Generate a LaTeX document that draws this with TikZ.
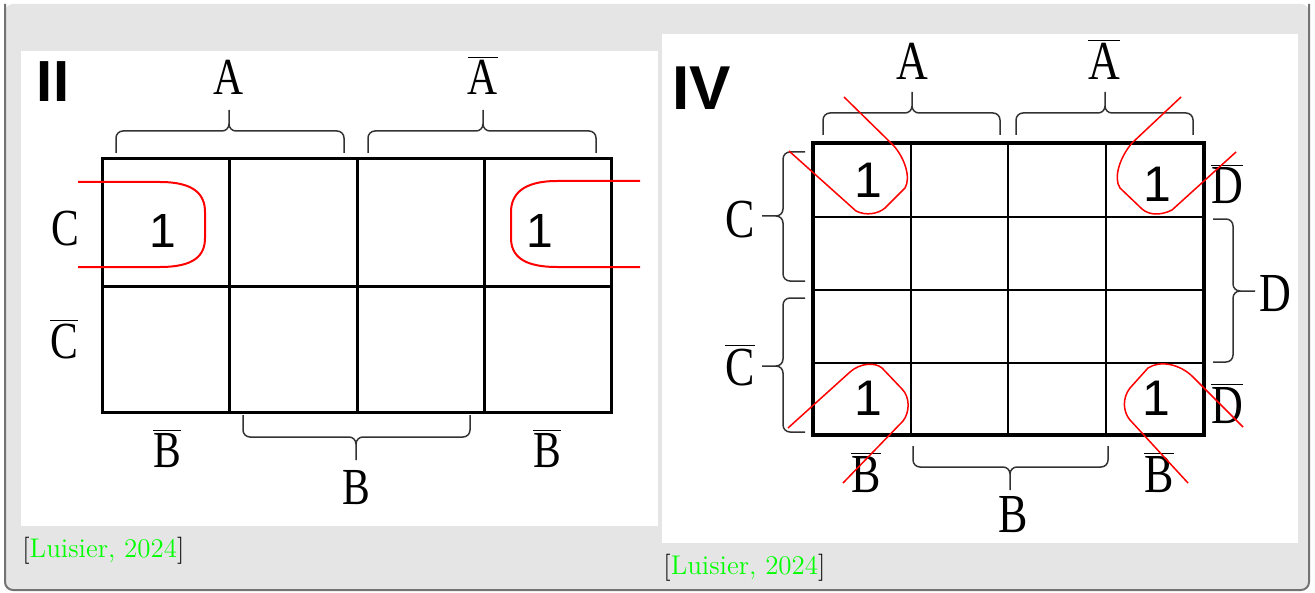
\documentclass[tikz,border=0pt]{standalone}
\usepackage{fontspec}
\usepackage{tikz}
\newfontfamily\labfont[FakeStretch=0.8]{Liberation Serif}
\newfontfamily\onefont{Liberation Sans}
\definecolor{bggray}{gray}{0.9}
\definecolor{framegray}{gray}{0.45}
\definecolor{citegreen}{rgb}{0,1,0}
\newcommand{\nbar}[1]{$\overline{\mbox{#1}}$}
\tikzset{lab/.style={font={\labfont\fontsize{26}{28}\selectfont}, inner sep=0pt, anchor=base}}
\tikzset{labIV/.style={font={\labfont\fontsize{27.5}{30}\selectfont}, inner sep=0pt, anchor=base}}
\tikzset{one/.style={font={\onefont\fontsize{24}{26}\selectfont}, inner sep=0pt, anchor=base}}
\tikzset{mapname/.style={font={\onefont\bfseries\fontsize{29}{30}\selectfont}, inner sep=0pt, anchor=base}}
\tikzset{cite/.style={font={\fontsize{13.5}{15}\selectfont}, inner sep=0pt, anchor=base west}}
\tikzset{brc/.style={draw=black!80, line width=0.75pt, rounded corners=3.5pt}}
\tikzset{loop/.style={draw=red, line width=1pt, line join=round}}

\begin{document}
\begin{tikzpicture}[x=0.5pt, y=-0.5pt]
	\useasboundingbox (0,0) rectangle (1315,593);
	% frame and panels
	\fill[bggray, rounded corners=4pt] (5,4) rectangle (1309,590);
	\draw[framegray, line width=1pt, rounded corners=4pt] (5,4) -- (5,590) -- (1309,590) -- (1309,4);
	\fill[white] (21,51) rectangle (658,526);
	\fill[white] (662,34) rectangle (1298,543);
	
	% map II
	\draw[line width=1.5pt] (102,159) rectangle (611,412);
	\foreach \x in {229,357,484}
		\draw[line width=1.5pt] (\x,159) -- (\x,412);
	\draw[line width=1.5pt] (102,286) -- (611,286);
	
	\node[mapname] (nII) at (53,102) {II};
	\node[lab] (aII) at (229,95) {A};
	\node[lab] (naII) at (483,95) {\nbar{A}};
	\node[lab] (cII) at (65,245) {C};
	\node[lab] (ncII) at (64,358) {\nbar{C}};
	\node[lab] (nbIIl) at (167,467) {\nbar{B}};
	\node[lab] (bII) at (356,504) {B};
	\node[lab] (nbIIr) at (547,467) {\nbar{B}};
	\node[one] (oneIIl) at (163,247) {1};
	\node[one] (oneIIr) at (540,247) {1};
	
	\draw[brc] (116,153) -- (116,131) -- (229,131) -- (229,110) (344,153) -- (344,131) -- (229,131) -- (229,110);
	\draw[brc] (368,153) -- (368,131) -- (483,131) -- (483,110) (596,153) -- (596,131) -- (483,131) -- (483,110);
	\draw[brc] (243,415) -- (243,437) -- (356,437) -- (356,460) (470,415) -- (470,437) -- (356,437) -- (356,460);
	
	\draw[loop] (78,182) -- (160,182) .. controls (195,182) and (205,195) .. (205,212) -- (205,238) .. controls (205,255) and (195,267) .. (160,267) -- (78,267);
	\draw[loop] (640,181) -- (557,181) .. controls (522,181) and (511,195) .. (511,212) -- (511,238) .. controls (511,255) and (522,267) .. (557,267) -- (640,267);
	
	\node[cite] (citeII) at (22,557) {[\textcolor{citegreen}{Luisier, 2024}]};
	
	% map IV
	\foreach \x in {911,1008,1106}
		\draw[line width=1pt] (\x,143) -- (\x,435);
	\foreach \y in {217,290,363}
		\draw[line width=1pt] (813,\y) -- (1204,\y);
	\draw[line width=2pt] (813,143) rectangle (1204,435);
	
	\node[mapname, font={\onefont\bfseries\fontsize{31}{32}\selectfont}] (nIV) at (702,110) {IV};
	\node[labIV] (aIV) at (912,80) {A};
	\node[labIV] (naIV) at (1104,80) {\nbar{A}};
	\node[labIV] (cIV) at (740,237) {C};
	\node[labIV] (ncIV) at (740,385) {\nbar{C}};
	\node[labIV] (ndIVt) at (1227,204) {\nbar{D}};
	\node[labIV] (dIV) at (1275,311) {D};
	\node[labIV] (ndIVb) at (1227,423) {\nbar{D}};
	\node[labIV] (nbIVl) at (866,492) {\nbar{B}};
	\node[labIV] (bIV) at (1013,532) {B};
	\node[labIV] (nbIVr) at (1159,492) {\nbar{B}};
	\node[one, font={\onefont\fontsize{25}{27}\selectfont}] (oneIVa) at (868,198) {1};
	\node[one, font={\onefont\fontsize{25}{27}\selectfont}] (oneIVb) at (1157,202) {1};
	\node[one, font={\onefont\fontsize{25}{27}\selectfont}] (oneIVc) at (868,415) {1};
	\node[one, font={\onefont\fontsize{25}{27}\selectfont}] (oneIVd) at (1156,415) {1};
	
	\draw[brc] (823,135) -- (823,113) -- (912,113) -- (912,92) (1000,135) -- (1000,113) -- (912,113) -- (912,92);
	\draw[brc] (1016,135) -- (1016,113) -- (1105,113) -- (1105,92) (1193,135) -- (1193,113) -- (1105,113) -- (1105,92);
	\draw[brc] (805,152) -- (783,152) -- (783,216) -- (762,216) (805,281) -- (783,281) -- (783,216) -- (762,216);
	\draw[brc] (805,298) -- (783,298) -- (783,366) -- (762,366) (805,432) -- (783,432) -- (783,366) -- (762,366);
	\draw[brc] (1213,219) -- (1233,219) -- (1233,291) -- (1255,291) (1213,362) -- (1233,362) -- (1233,291) -- (1255,291);
	\draw[brc] (913,446) -- (913,467) -- (1010,467) -- (1010,490) (1108,446) -- (1108,467) -- (1010,467) -- (1010,490);
	
	\draw[loop, line width=0.75pt] (844,97) -- (893,145) .. controls (905,158) and (911,178) .. (905,188) -- (885,208) .. controls (878,214) and (866,216) .. (856,211) -- (789,151);
	\draw[loop, line width=0.75pt] (1181,97) -- (1132,143) .. controls (1120,157) and (1113,178) .. (1120,188) -- (1142,209) .. controls (1150,216) and (1162,215) .. (1172,210) -- (1236,152);
	\draw[loop, line width=0.75pt] (788,428) -- (850,372) .. controls (860,363) and (875,362) .. (882,368) -- (902,389) .. controls (910,397) and (910,412) .. (903,421) -- (843,483);
	\draw[loop, line width=0.75pt] (1243,427) -- (1193,377) .. controls (1180,364) and (1160,360) .. (1148,368) -- (1130,388) .. controls (1122,398) and (1123,412) .. (1130,420) -- (1188,483);
	
	\node[cite] (citeIV) at (663,574) {[\textcolor{citegreen}{Luisier, 2024}]};
\end{tikzpicture}
\end{document}
